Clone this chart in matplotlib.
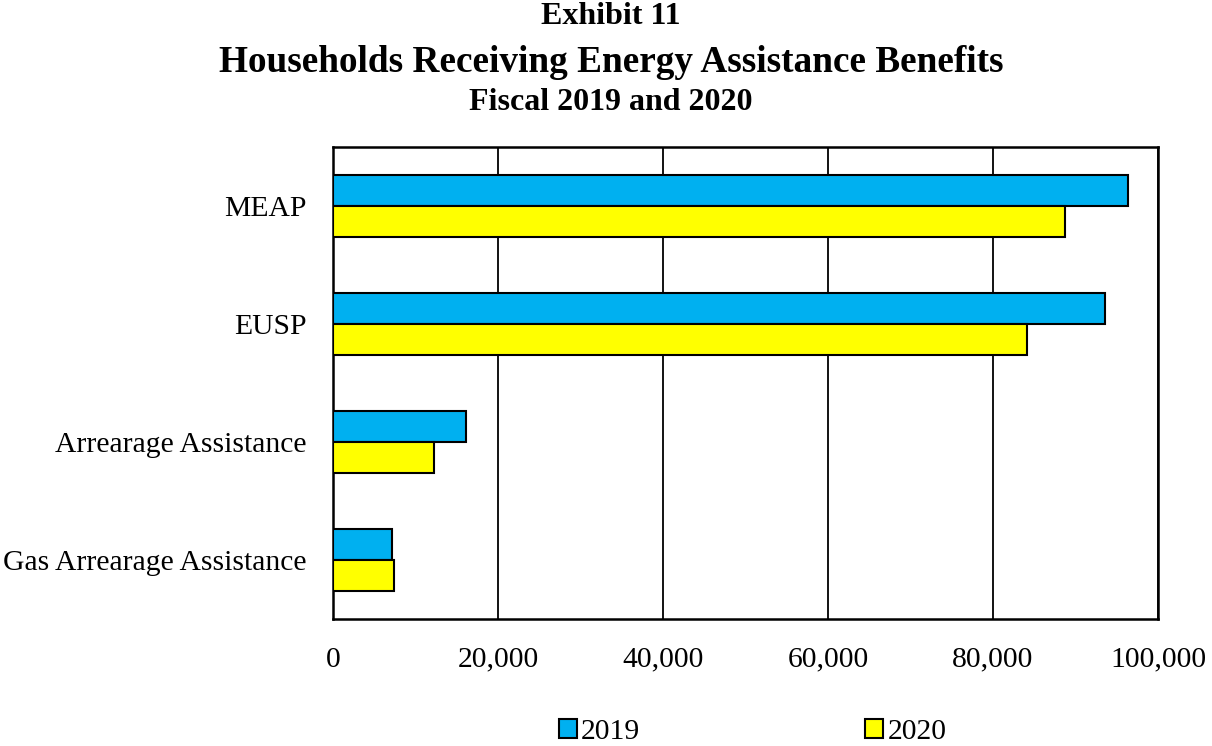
import matplotlib.pyplot as plt
import numpy as np

categories = ["MEAP", "EUSP", "Arrearage Assistance", "Gas Arrearage Assistance"]
values_2019 = [96400, 93600, 16100, 7200]
values_2020 = [88700, 84100, 12200, 7400]
series_labels = ["2019", "2020"]
xticks = [0, 20000, 40000, 60000, 80000, 100000]

plt.rcParams['font.family'] = ['Liberation Serif', 'DejaVu Serif']

fig = plt.figure(figsize=(12.12, 7.46), dpi=100)
ax = fig.add_axes([333 / 1212, 1 - 619 / 746, (1158 - 333) / 1212, (619 - 147) / 746])

y = np.arange(len(categories))
h = 0.263
ax.barh(y - h / 2, values_2019, height=h, color="#00B0F0", edgecolor="black",
        linewidth=1.5, label=series_labels[0], zorder=3)
ax.barh(y + h / 2, values_2020, height=h, color="#FFFF00", edgecolor="black",
        linewidth=1.5, label=series_labels[1], zorder=3)

ax.set_ylim(len(categories) - 0.5, -0.5)
ax.set_xlim(0, 100000)
ax.set_yticks(y)
ax.set_yticklabels(categories, fontsize=21.3)
ax.set_xticks(xticks)
ax.set_xticklabels([f"{v:,}" for v in xticks], fontsize=21.3)
ax.tick_params(axis="both", length=0)
ax.tick_params(axis="x", pad=20)
ax.tick_params(axis="y", pad=19)
ax.grid(axis="x", color="black", linewidth=1.3, zorder=0)
for s in ax.spines.values():
    s.set_linewidth(1.8)
    s.set_color("black")

fig.text(0.504, 1 - 17 / 746, "Exhibit 11", ha="center", va="center",
         fontsize=23, fontweight="bold")
fig.text(0.504, 1 - 62 / 746, "Households Receiving Energy Assistance Benefits",
         ha="center", va="center", fontsize=26.8, fontweight="bold")
fig.text(0.504, 1 - 102 / 746, "Fiscal 2019 and 2020", ha="center", va="center",
         fontsize=23, fontweight="bold")

leg = fig.legend(loc="center", bbox_to_anchor=(0.621, 1 - 732 / 746), ncol=2,
                 frameon=False, fontsize=21.3, handlelength=0.6, handleheight=0.6,
                 handletextpad=0.15, columnspacing=7.6, borderaxespad=0)

fig.savefig("out.png", dpi=100)
